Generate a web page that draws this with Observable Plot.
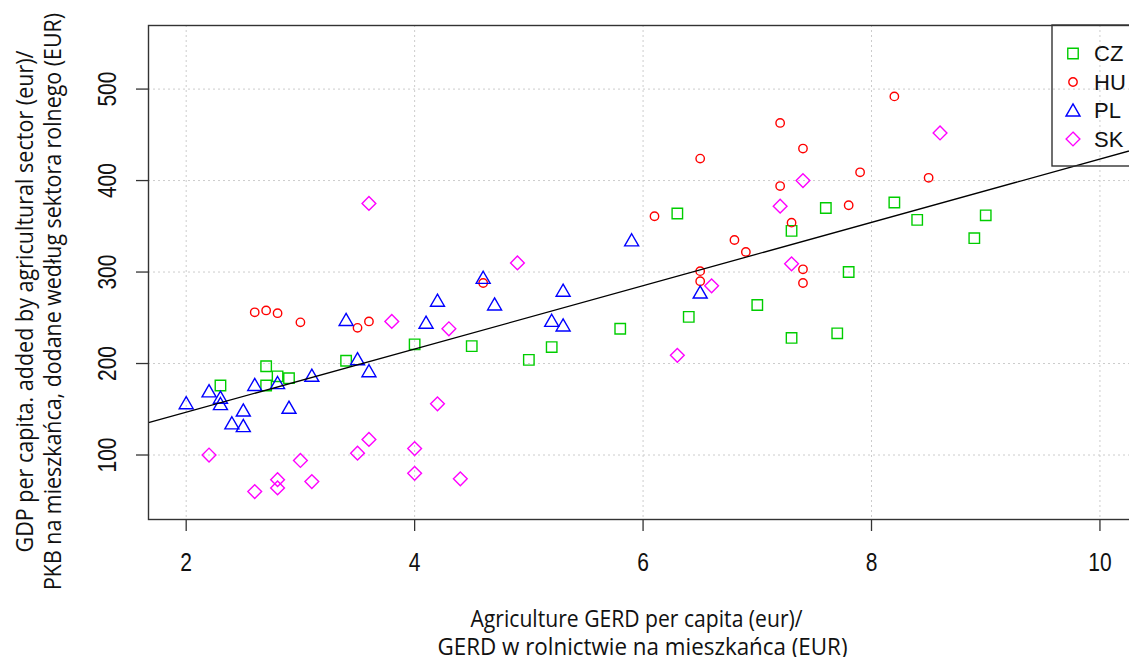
<!DOCTYPE html>
<html>
<head>
<meta charset="utf-8">
<script src="https://cdn.jsdelivr.net/npm/d3@7"></script>
<script src="https://cdn.jsdelivr.net/npm/@observablehq/plot@0.6"></script>
<style>
html, body { margin: 0; padding: 0; background: #fff; overflow: hidden; }
#chart { position: relative; width: 1129px; height: 657px; overflow: hidden; }
#chart svg { max-width: none !important; }
</style>
</head>
<body>
<div id="chart"></div>
<script>
// ---- data ----
const countries = ["CZ", "HU", "PL", "SK"];
const colors = ["#00CD00", "#FF0000", "#0000FF", "#FF00FF"];
const symbols = ["square", "circle", "triangle", "diamond2"];
const symbolRadius = [5.9, 4.2, 5.2, 6.2];

const czX = [2.3, 2.7, 2.7, 2.8, 2.9, 3.4, 4.0, 4.5, 5.0, 5.2, 5.8, 6.3, 6.4, 7.0, 7.3, 7.3, 7.6, 7.7, 7.8, 8.2, 8.4, 8.9, 9.0];
const czY = [176, 197, 176, 186, 184, 203, 221, 219, 204, 218, 238, 364, 251, 264, 345, 228, 370, 233, 300, 376, 357, 337, 362];

const huX = [2.6, 2.7, 2.8, 3.0, 3.5, 3.6, 4.6, 6.1, 6.5, 6.5, 6.5, 6.8, 6.9, 7.2, 7.2, 7.3, 7.4, 7.4, 7.4, 7.8, 7.9, 8.2, 8.5];
const huY = [256, 258, 255, 245, 239, 246, 288, 361, 424, 301, 290, 335, 322, 463, 394, 354, 435, 303, 288, 373, 409, 492, 403];

const plX = [2.0, 2.2, 2.3, 2.3, 2.4, 2.5, 2.5, 2.6, 2.8, 2.9, 3.1, 3.4, 3.5, 3.6, 4.1, 4.2, 4.6, 4.7, 5.2, 5.3, 5.3, 5.9, 6.5];
const plY = [155, 168, 161, 154, 133, 130, 147, 175, 177, 150, 185, 246, 203, 190, 243, 267, 292, 263, 245, 278, 240, 333, 276];

const skX = [2.2, 2.6, 2.8, 2.8, 3.0, 3.1, 3.5, 3.6, 3.6, 3.8, 4.0, 4.0, 4.2, 4.3, 4.4, 4.9, 6.3, 6.6, 7.2, 7.3, 7.4, 8.6];
const skY = [100, 60, 73, 64, 94, 71, 102, 117, 375, 246, 107, 80, 156, 238, 74, 310, 209, 285, 372, 309, 400, 452];

const xTicks = [2, 4, 6, 8, 10];
const yTicks = [100, 200, 300, 400, 500];
const fitIntercept = 77.5;
const fitSlope = 34.6;

const xLabelLines = ["Agriculture GERD per capita (eur)/", "GERD w rolnictwie na mieszkańca (EUR)"];
const yLabelLines = ["GDP per capita. added by agricultural sector (eur)/", "PKB na mieszkańca, dodane według sektora rolnego (EUR)"];

// ---- build ----
const seriesX = [czX, huX, plX, skX];
const seriesY = [czY, huY, plY, skY];
const rowsFor = (i) => seriesX[i].map((x, j) => ({x, y: seriesY[i][j], country: countries[i]}));

const xDomain = [1.67, 10.32];
const yDomain = [29.5, 569.5];
const fitLine = xDomain.map(x => ({x, y: fitIntercept + fitSlope * x}));

const tickFont = "'Liberation Sans', Arial, sans-serif";
const labelFont = "'Open Sans', 'Noto Sans', sans-serif";
const gridStyle = {stroke: "#cccccc", strokeOpacity: 1, strokeWidth: 1, strokeDasharray: "2,3"};

const chart = Plot.plot({
  width: 1136,
  height: 657,
  marginLeft: 148,
  marginRight: 0,
  marginTop: 25,
  marginBottom: 138,
  style: {background: "#fff", overflow: "visible", maxWidth: "none"},
  x: {domain: xDomain},
  y: {domain: yDomain},
  marks: [
    Plot.gridX(xTicks, gridStyle),
    Plot.gridY(yTicks, gridStyle),
    ...countries.map((c, i) => Plot.dot(rowsFor(i), {
      x: "x", y: "y", symbol: symbols[i], r: symbolRadius[i],
      stroke: colors[i], strokeWidth: 1.4, fill: "none"
    })),
    Plot.line(fitLine, {x: "x", y: "y", stroke: "#000", strokeWidth: 1.3, clip: true}),
    Plot.frame({stroke: "#333", strokeWidth: 1.4}),
    Plot.axisX(xTicks, {tickSize: 12, tickFormat: () => "", stroke: "#333", strokeWidth: 1.3, label: null}),
    Plot.axisY(yTicks, {tickSize: 12, tickFormat: () => "", stroke: "#333", strokeWidth: 1.3, label: null}),
    Plot.text(xTicks, {x: d => d, text: d => String(d), frameAnchor: "bottom", lineAnchor: "bottom",
      textAnchor: "middle", dy: 51, fontSize: 25, fontFamily: tickFont, fill: "#111"}),
    Plot.text(yTicks, {y: d => d, text: d => String(d), frameAnchor: "left", lineAnchor: "bottom",
      textAnchor: "middle", rotate: -90, dx: -33, fontSize: 25, fontFamily: tickFont, fill: "#111"}),
    Plot.text([xLabelLines[0]], {text: d => d, frameAnchor: "bottom", lineAnchor: "bottom",
      textAnchor: "middle", dx: -6, dy: 107, fontSize: 24, fontFamily: labelFont, fill: "#111"}),
    Plot.text([xLabelLines[1]], {text: d => d, frameAnchor: "bottom", lineAnchor: "bottom",
      textAnchor: "middle", dx: 0, dy: 135, fontSize: 24, fontFamily: labelFont, fill: "#111"}),
    Plot.text([yLabelLines[0]], {text: d => d, frameAnchor: "left", lineAnchor: "bottom", rotate: -90,
      textAnchor: "middle", dx: -116, dy: 29, fontSize: 24, fontFamily: labelFont, fill: "#111"}),
    Plot.text([yLabelLines[1]], {text: d => d, frameAnchor: "left", lineAnchor: "bottom", rotate: -90,
      textAnchor: "middle", dx: -88, dy: 29, fontSize: 24, fontFamily: labelFont, fill: "#111"})
  ]
});

document.getElementById("chart").appendChild(chart);

// condense text to match the reference's narrow typefaces
const tickStrings = new Set([...xTicks, ...yTicks].map(String));
const labelTargets = new Map([
  [xLabelLines[0], 332], [xLabelLines[1], 410],
  [yLabelLines[0], 502], [yLabelLines[1], 577]
]);
chart.querySelectorAll("text").forEach(t => {
  const s = t.textContent;
  let target = null;
  if (labelTargets.has(s)) target = labelTargets.get(s);
  else if (tickStrings.has(s)) target = t.getComputedTextLength() * 0.84;
  if (target) {
    t.setAttribute("textLength", target);
    t.setAttribute("lengthAdjust", "spacingAndGlyphs");
  }
});

// legend (box inside the plot, top right, cut at the edge like the reference)
const svg = d3.select(chart);
const lg = svg.append("g").attr("class", "legend");
lg.append("rect").attr("x", 1052).attr("y", 25).attr("width", 120).attr("height", 141)
  .attr("fill", "none").attr("stroke", "#333").attr("stroke-width", 1.4);
const d3Symbols = [d3.symbolSquare, d3.symbolCircle, d3.symbolTriangle, d3.symbolDiamond2 || d3.symbolDiamond];
countries.forEach((c, i) => {
  const cy = 53.5 + i * 28.5;
  const dyShift = symbols[i] === "triangle" ? 1.5 : 0;
  lg.append("path")
    .attr("transform", `translate(1073,${cy + dyShift})`)
    .attr("d", d3.symbol(d3Symbols[i], Math.PI * symbolRadius[i] ** 2)())
    .attr("fill", "none").attr("stroke", colors[i]).attr("stroke-width", 1.4);
  lg.append("text").attr("x", 1094).attr("y", cy).attr("dy", "0.36em")
    .attr("text-anchor", "start")
    .attr("font-family", "'Liberation Sans', Arial, sans-serif").attr("font-size", 22)
    .attr("fill", "#111").text(c);
});
</script>
</body>
</html>
